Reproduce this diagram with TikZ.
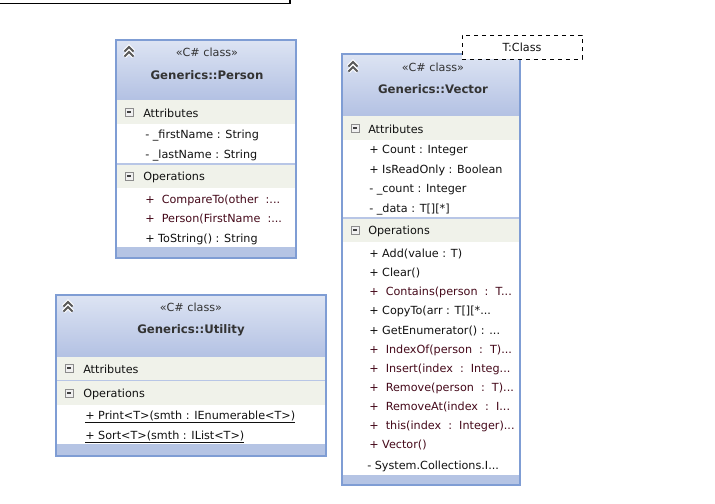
\documentclass[tikz,border=0pt]{standalone}
\usepackage{fontspec}
\setmainfont{DejaVu Sans}
\definecolor{bord}{HTML}{7F9DD4}
\definecolor{htop}{HTML}{DDE4F3}
\definecolor{hbot}{HTML}{B3C1E3}
\definecolor{band}{HTML}{F0F2EA}
\definecolor{foot}{HTML}{B5C4E4}
\definecolor{sepl}{HTML}{B8C6E6}
\definecolor{mar}{HTML}{45091A}
\definecolor{txt}{HTML}{111111}
\definecolor{ttl}{HTML}{333333}
\tikzset{
  row/.style={anchor=west, inner sep=0pt, yshift=-0.9pt, font=\fontsize{8.4}{10}\selectfont, text=txt},
  mrow/.style={row, text=mar},
  stereo/.style={inner sep=0pt, font=\fontsize{8.4}{10}\selectfont, text=ttl},
  title/.style={inner sep=0pt, font=\fontsize{8.8}{10}\selectfont\bfseries, text=ttl},
  frame/.style={draw=bord, line width=1pt},
  collapse/.pic={
    \draw[white, line width=3pt, line join=miter] (-4.5,0.5)--(0,-4)--(4.5,0.5) (-4.5,5.5)--(0,1)--(4.5,5.5);
    \draw[black!65, line width=1.5pt, line join=miter] (-4.5,0.5)--(0,-4)--(4.5,0.5) (-4.5,5.5)--(0,1)--(4.5,5.5);
  },
  minusbox/.pic={
    \draw[black!45, fill=black!6, line width=0.6pt] (-4,-4) rectangle (4,4);
    \draw[black!75, line width=0.8pt] (-2,0)--(2,0);
  }
}
\begin{document}
\begin{tikzpicture}[x=0.75pt, y=-0.75pt]
\useasboundingbox (0,0) rectangle (715,504);
\fill[white] (0,0) rectangle (715,504);
% partial box at top
\coordinate (tl) at (0,3.5);
\coordinate (tr) at (290,0);
\draw[black, line width=0.9pt] (tl) -| (tr);

% ================= Person =================
\fill[white] (116,40) rectangle (296,258);
\shade[top color=htop, bottom color=hbot] (116,40) rectangle (296,100);
\fill[band] (116,100) rectangle (296,124);
\fill[band] (116,164) rectangle (296,188);
\draw[sepl, line width=1pt] (116,164) -- (296,164);
\fill[foot] (116,247) rectangle (296,258);
\draw[frame] (116,40) rectangle (296,258);
\pic at (129,51) {collapse};
\node[stereo] (pst) at (207,52) {«C\# class»};
\node[title] (ptl) at (207,75) {Generics::Person};
\pic at (129,112) {minusbox};
\node[row] (pa) at (143,112) {Attributes};
\node[row] (pa1) at (145,134) {- \_firstName : String};
\node[row] (pa2) at (145,154) {- \_lastName : String};
\pic at (129,176) {minusbox};
\node[row] (po) at (143,176) {Operations};
\node[mrow] (po1) at (145,199) {+\ \ CompareTo(other\ \ :...};
\node[mrow] (po2) at (145,218) {+\ \ Person(FirstName\ \ :...};
\node[row] (po3) at (145,238) {+ ToString() : String};

% ================= Vector =================
\fill[white] (342,54) rectangle (520,485);
\shade[top color=htop, bottom color=hbot] (342,54) rectangle (520,116);
\fill[band] (342,116) rectangle (520,140);
\fill[band] (342,218) rectangle (520,242);
\draw[sepl, line width=1pt] (342,218) -- (520,218);
\fill[foot] (342,475) rectangle (520,485);
\draw[frame] (342,54) rectangle (520,485);
\pic at (353,66) {collapse};
\node[stereo] (vst) at (433,67) {«C\# class»};
\node[title] (vtl) at (433,89) {Generics::Vector};
\node[draw=black, dashed, fill=white, line width=0.6pt, minimum width=120*0.75pt, minimum height=24*0.75pt, inner sep=0pt,
      font=\fontsize{8.4}{10}\selectfont, text=txt] (tcl) at (522,47) {T:Class};
\pic at (355,128) {minusbox};
\node[row] (va) at (368,128) {Attributes};
\node[row] (va1) at (369,149) {+ Count : Integer};
\node[row] (va2) at (369,169) {+ IsReadOnly : Boolean};
\node[row] (va3) at (369,189) {- \_count : Integer};
\node[row] (va4) at (369,208) {- \_data : T[][*]};
\pic at (355,230) {minusbox};
\node[row] (vo) at (368,230) {Operations};
\node[row]  (vo1)  at (369,253) {+ Add(value : T)};
\node[row]  (vo2)  at (369,272) {+ Clear()};
\node[mrow] (vo3)  at (369,291) {+\ \ Contains(person\ \ :\ \ T...};
\node[row]  (vo4)  at (369,310) {+ CopyTo(arr : T[][*...};
\node[row]  (vo5)  at (369,330) {+ GetEnumerator() : ...};
\node[mrow] (vo6)  at (369,349) {+\ \ IndexOf(person\ \ :\ \ T)...};
\node[mrow] (vo7)  at (369,368) {+\ \ Insert(index\ \ :\ \ Integ...};
\node[mrow] (vo8)  at (369,387) {+\ \ Remove(person\ \ :\ \ T)...};
\node[mrow] (vo9)  at (369,406) {+\ \ RemoveAt(index\ \ :\ \ I...};
\node[mrow] (vo10) at (369,425) {+\ \ this(index\ \ :\ \ Integer)...};
\node[mrow] (vo11) at (369,444) {+ Vector()};
\node[row]  (vo12) at (367,465) {- System.Collections.I...};

% ================= Utility =================
\fill[white] (56,295) rectangle (326,456);
\shade[top color=htop, bottom color=hbot] (56,295) rectangle (326,357);
\fill[band] (56,357) rectangle (326,380);
\fill[band] (56,381) rectangle (326,405);
\draw[sepl, line width=1pt] (56,380.5) -- (326,380.5);
\fill[foot] (56,444) rectangle (326,456);
\draw[frame] (56,295) rectangle (326,456);
\pic at (68,306) {collapse};
\node[stereo] (ust) at (191,307) {«C\# class»};
\node[title] (utl) at (191,330) {Generics::Utility};
\pic at (69,368) {minusbox};
\node[row] (ua) at (83,368) {Attributes};
\pic at (69,393) {minusbox};
\node[row] (uo) at (83,393) {Operations};
\node[row] (uo1) at (85,416) {\underline{+ Print<T>(smth : IEnumerable<T>)}};
\node[row] (uo2) at (85,436) {\underline{+ Sort<T>(smth : IList<T>)}};
\end{tikzpicture}
\end{document}
